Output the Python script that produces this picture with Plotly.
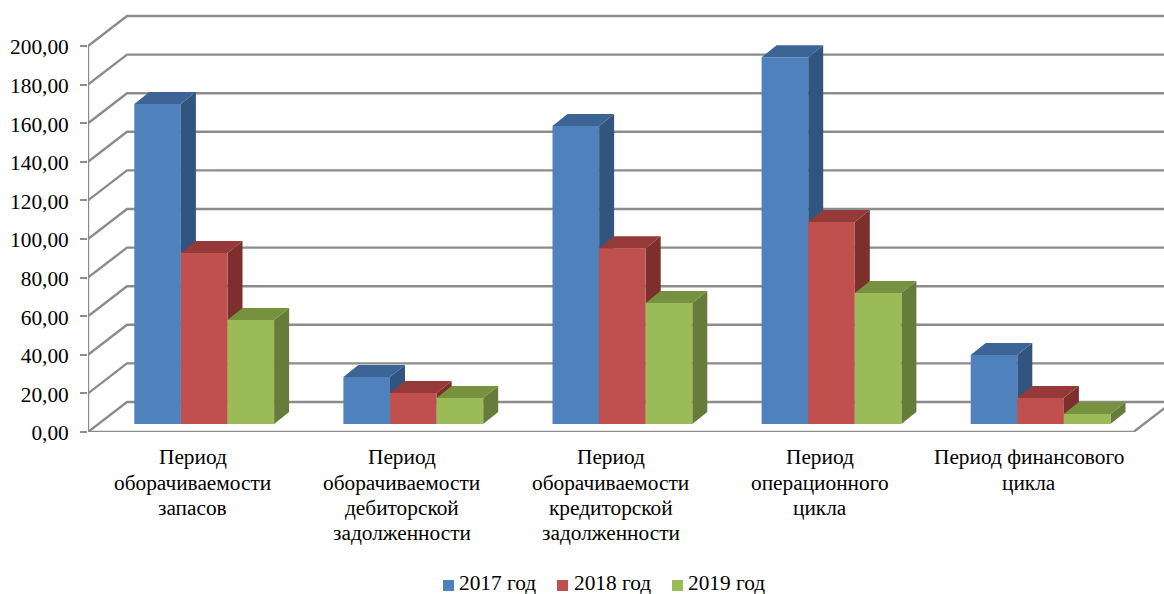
import plotly.graph_objects as go

categories = [["Период", "оборачиваемости", "запасов"],
              ["Период", "оборачиваемости", "дебиторской", "задолженности"],
              ["Период", "оборачиваемости", "кредиторской", "задолженности"],
              ["Период", "операционного", "цикла"],
              ["Период финансового", "цикла"]]
series_names = ["2017 год", "2018 год", "2019 год"]
values_2017 = [165.8, 24.4, 154.4, 190.0, 35.8]
values_2018 = [88.6, 16.0, 91.0, 104.7, 13.5]
values_2019 = [53.9, 13.5, 62.7, 67.9, 5.2]
y_ticks = [0, 20, 40, 60, 80, 100, 120, 140, 160, 180, 200]
front_colors = ["#4F81BD", "#C0504D", "#9BBB59"]
top_colors = ["#3C6494", "#953A38", "#76923F"]
side_colors = ["#32557F", "#7C2F2D", "#667C3A"]
GRID = "#8C8C8C"
FONT = "Liberation Serif"
FSIZE = 21.33

W, H = 1164, 594
L, FLOOR = 88, 432
CAT_PX, VAL_PX = 209.1, 1.93
n = len(categories)
wall_dx, wall_dy = 39 / CAT_PX, 30 / VAL_PX
bar_w = 46.6 / CAT_PX
group_start = 46.3 / CAT_PX
bar_dx, bar_dy = 15 / CAT_PX, 12 / VAL_PX
base = 8 / VAL_PX
x_max = (W - L) / CAT_PX
y_max = FLOOR / VAL_PX

series = [values_2017, values_2018, values_2019]
shapes = []
annotations = []


def poly(points, **kw):
    d = "M" + "L".join(f"{x:.5f},{y:.4f}" for x, y in points) + "Z"
    return dict(type="path", path=d, xref="x", yref="y", layer="below", **kw)


def line(points):
    d = "M" + "L".join(f"{x:.5f},{y:.4f}" for x, y in points)
    return dict(type="path", path=d, xref="x", yref="y", layer="below",
                line=dict(color=GRID, width=2.4))


def px_x(px):
    return (px - L) / (W - L)


def px_y(py):
    return (FLOOR - py) / FLOOR


for v in y_ticks:
    shapes.append(line([(0, v), (wall_dx, v + wall_dy), (x_max + 1, v + wall_dy)]))
shapes.append(line([(n, 0), (n + wall_dx, wall_dy)]))

for c in range(n):
    for s, vals in enumerate(series):
        x0 = c + group_start + s * bar_w
        x1 = x0 + bar_w
        top = base + vals[c]
        shapes.append(poly([(x1, base), (x1 + bar_dx, base + bar_dy),
                            (x1 + bar_dx, top + bar_dy), (x1, top)],
                           fillcolor=side_colors[s], line=dict(width=0)))
        shapes.append(poly([(x0, top), (x0 + bar_dx, top + bar_dy),
                            (x1 + bar_dx, top + bar_dy), (x1, top)],
                           fillcolor=top_colors[s], line=dict(width=0)))

# category labels, one line each for the tight line spacing of the original
for c, lines in enumerate(categories):
    for i, text in enumerate(lines):
        annotations.append(dict(x=c + 0.5, xref="x", y=px_y(457.5 + 25 * i), yref="paper",
                                text=text, showarrow=False, xanchor="center",
                                yanchor="middle",
                                font=dict(family=FONT, size=FSIZE, color="#000000")))

# legend row
swatch_left = [443, 557, 672]
text_left = [457, 572, 686]
for s, name in enumerate(series_names):
    shapes.append(dict(type="rect", xref="paper", yref="paper",
                       x0=px_x(swatch_left[s]), x1=px_x(swatch_left[s] + 11),
                       y0=px_y(591), y1=px_y(580), fillcolor=front_colors[s],
                       line=dict(width=0), layer="above"))
    annotations.append(dict(x=px_x(text_left[s]), xref="paper", y=px_y(582.5), yref="paper",
                            text=name, showarrow=False, xanchor="left", yanchor="middle",
                            font=dict(family=FONT, size=FSIZE, color="#000000")))

fig = go.Figure()
for s, vals in enumerate(series):
    fig.add_trace(go.Bar(
        x=[c + group_start + (s + 0.5) * bar_w for c in range(n)],
        y=vals, base=base, width=bar_w, name=series_names[s], showlegend=False,
        marker=dict(color=front_colors[s], line=dict(width=0))))

ax_x, ax_y = [0, n, None, 0, 0], [0, 0, None, 0, 200]
for c in range(n + 1):
    ax_x += [None, c, c]
    ax_y += [None, 0, -6.5 / VAL_PX]
fig.add_trace(go.Scatter(x=ax_x, y=ax_y, mode="lines", showlegend=False,
                         cliponaxis=False, hoverinfo="skip",
                         line=dict(color=GRID, width=2.4)))

fig.update_layout(
    width=W, height=H, autosize=False,
    margin=dict(l=L, r=0, t=0, b=H - FLOOR, pad=0),
    paper_bgcolor="white", plot_bgcolor="white",
    barmode="overlay", separators=", ", showlegend=False,
    font=dict(family=FONT, color="#000000", size=FSIZE),
    shapes=shapes, annotations=annotations,
    xaxis=dict(range=[0, x_max], showgrid=False, zeroline=False, showline=False,
               showticklabels=False, ticks=""),
    yaxis=dict(range=[0, y_max], showgrid=False, zeroline=False, showline=False,
               tickmode="array", tickvals=y_ticks, tickformat=".2f",
               ticks="outside", ticklen=7, tickwidth=2.2, tickcolor=GRID,
               ticklabelstandoff=7, ticklabelshift=1,
               tickfont=dict(family=FONT, size=FSIZE, color="#000000")),
)
fig.write_html("out.html", config=dict(displayModeBar=False),
               post_script="document.body.style.margin='0';document.body.style.overflow='hidden';")
